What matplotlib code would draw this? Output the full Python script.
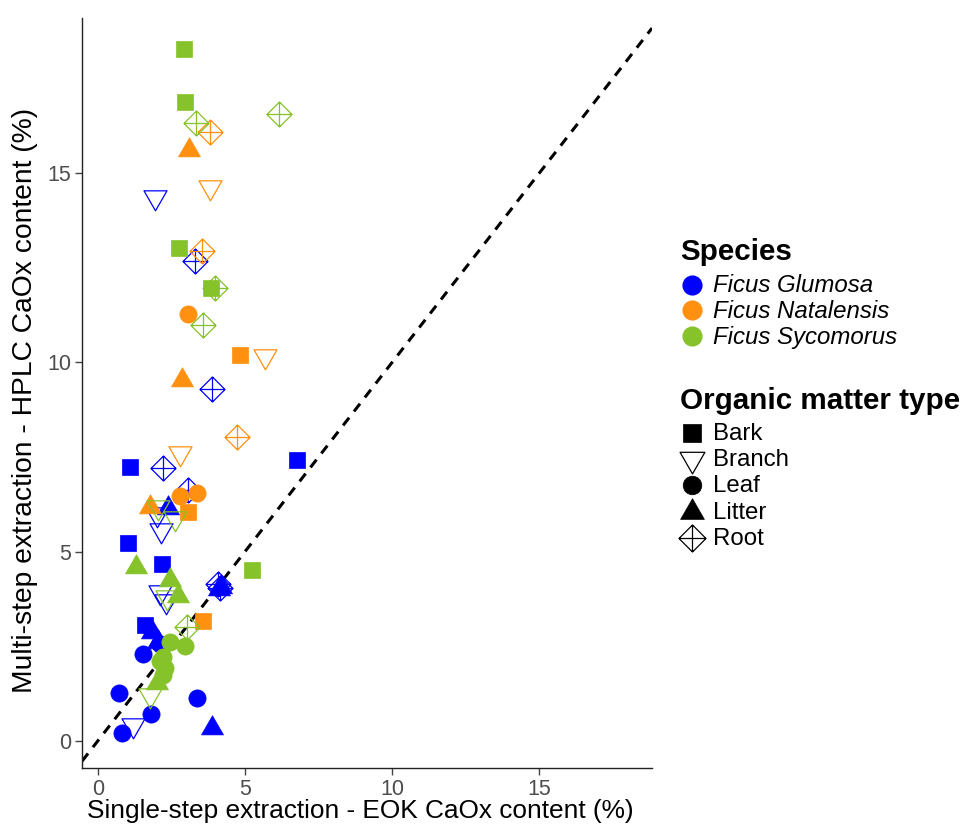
import matplotlib
matplotlib.use("Agg")
import matplotlib.pyplot as plt
from matplotlib.path import Path
from matplotlib.lines import Line2D

plt.rcParams['font.family'] = ['Liberation Sans', 'DejaVu Sans']

# Measurements: single-step EOK (x) vs multi-step HPLC (y) CaOx content (%)
species = (
    ["Ficus Glumosa"] * 29
    + ["Ficus Natalensis"] * 15
    + ["Ficus Sycomorus"] * 24
)
matter = [
    # Ficus Glumosa
    "Branch", "Root", "Root", "Bark", "Root", "Root", "Litter", "Branch",
    "Bark", "Bark", "Root", "Litter", "Branch", "Branch", "Bark", "Litter",
    "Litter", "Leaf", "Leaf", "Leaf", "Leaf", "Branch", "Leaf", "Litter",
    "Bark", "Root", "Litter", "Branch", "Leaf",
    # Ficus Natalensis
    "Root", "Litter", "Branch", "Root", "Leaf", "Bark", "Branch", "Litter",
    "Root", "Branch", "Leaf", "Leaf", "Bark", "Litter", "Bark",
    # Ficus Sycomorus
    "Bark", "Bark", "Root", "Root", "Bark", "Bark", "Root", "Root",
    "Bark", "Litter", "Litter", "Litter", "Branch", "Branch", "Root",
    "Branch", "Leaf", "Leaf", "Leaf", "Leaf", "Leaf", "Litter", "Branch",
    "Leaf",
]
eok = [
    # Ficus Glumosa
    1.94, 3.30, 3.88, 1.09, 2.21, 3.06, 2.38, 2.14,
    1.02, 2.18, 4.08, 4.20, 2.10, 2.30, 1.60, 1.84,
    2.04, 1.53, 0.71, 3.37, 1.80, 1.19, 0.82, 3.88,
    6.77, 4.15, 4.12, 2.00, 2.10,
    # Ficus Natalensis
    3.81, 3.10, 3.81, 3.54, 3.06, 4.83, 5.68, 2.86,
    4.73, 2.79, 2.79, 3.37, 3.06, 1.77, 3.57,
    # Ficus Sycomorus
    2.93, 2.96, 3.33, 6.16, 2.76, 3.84, 3.98, 3.57,
    5.24, 1.29, 2.45, 2.72, 2.04, 2.62, 3.03,
    2.35, 2.45, 2.96, 2.21, 2.28, 2.21, 2.00, 1.77,
    2.10,
]
hplc = [
    # Ficus Glumosa
    14.37, 12.67, 9.29, 7.25, 7.22, 6.64, 6.16, 5.58,
    5.24, 4.66, 4.15, 4.07, 3.94, 3.70, 3.07, 2.88,
    2.60, 2.30, 1.27, 1.14, 0.71, 0.42, 0.21, 0.34,
    7.43, 4.05, 4.00, 6.00, 2.55,
    # Ficus Natalensis
    16.08, 15.63, 14.63, 12.94, 11.27, 10.21, 10.16, 9.55,
    8.04, 7.62, 6.46, 6.56, 6.06, 6.19, 3.17,
    # Ficus Sycomorus
    18.28, 16.88, 16.32, 16.56, 13.02, 11.98, 11.96, 10.98,
    4.52, 4.60, 4.26, 3.84, 6.19, 5.90, 3.02,
    3.80, 2.62, 2.51, 2.22, 1.93, 1.75, 1.53, 1.22,
    2.10,
]

species_order = ["Ficus Glumosa", "Ficus Natalensis", "Ficus Sycomorus"]
species_colors = {"Ficus Glumosa": "#0000FF",
                  "Ficus Natalensis": "#FF9010",
                  "Ficus Sycomorus": "#86C22A"}
matter_order = ["Bark", "Branch", "Leaf", "Litter", "Root"]

# marker shapes
tri_down = Path([(-1, 0.58), (1, 0.58), (0, -1.16), (-1, 0.58)],
                [Path.MOVETO, Path.LINETO, Path.LINETO, Path.CLOSEPOLY])
tri_up = Path([(-1, -0.58), (1, -0.58), (0, 1.16), (-1, -0.58)],
              [Path.MOVETO, Path.LINETO, Path.LINETO, Path.CLOSEPOLY])
diamond_plus = Path(
    [(0, 1), (1, 0), (0, -1), (-1, 0), (0, 1),
     (0, 1), (0, -1), (-1, 0), (1, 0)],
    [Path.MOVETO, Path.LINETO, Path.LINETO, Path.LINETO, Path.CLOSEPOLY,
     Path.MOVETO, Path.LINETO, Path.MOVETO, Path.LINETO])

matter_style = {
    "Bark": dict(marker="s", ms=12.2, filled=True),
    "Branch": dict(marker=tri_down, ms=19.2, filled=False),
    "Leaf": dict(marker="o", ms=12.4, filled=True),
    "Litter": dict(marker=tri_up, ms=18.4, filled=True),
    "Root": dict(marker=diamond_plus, ms=18.0, filled=False),
}


def marker_kwargs(kind, color, scale=1.0):
    st = matter_style[kind]
    kw = dict(linestyle="none", marker=st["marker"], ms=st["ms"] * scale)
    if st["filled"]:
        kw.update(mfc=color, mec=color, mew=0.5)
    else:
        kw.update(mfc="none", mec=color, mew=0.9)
    return kw


fig = plt.figure(figsize=(9.65, 8.3), dpi=100)
ax = fig.add_axes([0.085, 0.0747, 0.5907, 0.9033])

# 1:1 reference line
ax.axline((0, 0), slope=1, color="black", lw=2.2, ls=(0, (3.2, 2.6)), zorder=1)

for sp, mt, xv, yv in zip(species, matter, eok, hplc):
    ax.plot(xv, yv, zorder=3, **marker_kwargs(mt, species_colors[sp]))

ax.set_xlim(-0.54, 18.84)
ax.set_ylim(-0.72, 19.1)
ax.set_xticks([0, 5, 10, 15])
ax.set_yticks([0, 5, 10, 15])
for s in ["top", "right"]:
    ax.spines[s].set_visible(False)
for s in ["left", "bottom"]:
    ax.spines[s].set_color("#222222")
    ax.spines[s].set_linewidth(1.0)
ax.tick_params(axis="both", direction="out", length=5, width=1,
               color="#444444", labelcolor="#4D4D4D", labelsize=15.5, pad=3)
ax.set_xlabel("Single-step extraction - EOK CaOx content (%)", fontsize=18.9)
ax.set_ylabel("Multi-step extraction - HPLC CaOx content (%)", fontsize=20.3)
ax.xaxis.set_label_coords(0.489, -0.041, transform=ax.transAxes)
ax.yaxis.set_label_coords(-0.078, 0.49, transform=ax.transAxes)

# legends, placed in figure pixel coordinates
W, H = 965.0, 830.0


def fx(px):
    return px / W


def fy(py):
    return 1 - py / H


key_x, text_x = 692, 713
fig.text(fx(680), fy(260), "Species", fontsize=21.3, fontweight="bold",
         ha="left", va="baseline")
for i, sp in enumerate(species_order):
    yc = 285 + 25.5 * i
    fig.add_artist(Line2D([fx(key_x)], [fy(yc)], transform=fig.transFigure,
                          linestyle="none", marker="o", ms=13.5,
                          mfc=species_colors[sp], mec=species_colors[sp]))
    fig.text(fx(text_x), fy(yc + 1), sp, fontsize=17.3, style="italic",
             ha="left", va="center")

fig.text(fx(680), fy(409), "Organic matter type", fontsize=21.3,
         fontweight="bold", ha="left", va="baseline")
for i, mt in enumerate(matter_order):
    yc = 433 + 26.2 * i
    fig.add_artist(Line2D([fx(key_x)], [fy(yc)], transform=fig.transFigure,
                          **marker_kwargs(mt, "black", 1.08)))
    fig.text(fx(text_x), fy(yc + 1), mt, fontsize=17.3,
             ha="left", va="center")

fig.savefig("out.png", dpi=100, facecolor="white")
